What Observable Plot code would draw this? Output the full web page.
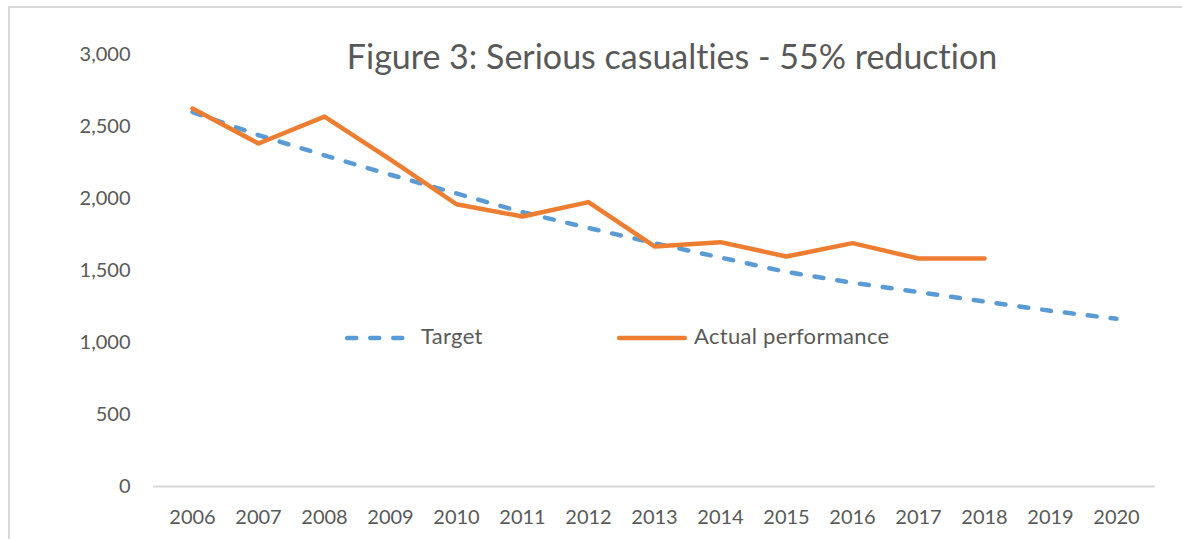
<!DOCTYPE html>
<html>
<head>
<meta charset="utf-8">
<script src="https://cdn.jsdelivr.net/npm/d3@7"></script>
<script src="https://cdn.jsdelivr.net/npm/@observablehq/plot@0.6"></script>
<style>
  html, body { margin: 0; padding: 0; background: #fff; }
  #wrap { position: relative; width: 1182px; height: 539px; overflow: hidden; font-family: Lato, "Open Sans", sans-serif; color: #595959; font-variant-ligatures: none; }
  #frame { position: absolute; left: 8px; top: 6px; right: -4px; bottom: -4px; border-top: 2px solid #d9d9d9; border-left: 2px solid #d9d9d9; }
  #title { position: absolute; top: 39px; left: 672px; transform: translateX(-50%); white-space: nowrap; font-size: 34px; line-height: 1; color: #595959; font-variant-ligatures: none; }
  .leg { position: absolute; font-size: 22px; letter-spacing: 0.3px; line-height: 1; white-space: nowrap; color: #595959; }
  .sw { position: absolute; }
  #chart { position: absolute; left: 0; top: 0; }
</style>
</head>
<body>
<div id="wrap">
  <div id="frame"></div>
  <div id="chart"></div>
  <div id="title"></div>
  <div id="legend"></div>
</div>
<script>
const titleText = "Figure 3: Serious casualties - 55% reduction";
const years = [2006, 2007, 2008, 2009, 2010, 2011, 2012, 2013, 2014, 2015, 2016, 2017, 2018, 2019, 2020];
const target = [2600, 2440, 2300, 2165, 2035, 1905, 1795, 1690, 1590, 1490, 1415, 1350, 1285, 1220, 1165];
const actual = [2625, 2382, 2569, 2270, 1960, 1875, 1975, 1667, 1697, 1597, 1690, 1583, 1583];
const yTicks = [0, 500, 1000, 1500, 2000, 2500, 3000];
const seriesNames = ["Target", "Actual performance"];
const colors = { Target: "#5B9BD5", "Actual performance": "#ED7D31" };

const targetData = years.map((y, i) => ({ year: y, value: target[i] }));
const actualData = actual.map((v, i) => ({ year: years[i], value: v }));

const chart = Plot.plot({
  width: 1182,
  height: 539,
  marginLeft: 153,
  marginRight: 27,
  marginTop: 54,
  marginBottom: 53,
  style: { fontFamily: "Lato, 'Open Sans', sans-serif", fontSize: "20px", color: "#595959", background: "transparent", overflow: "visible" },
  x: { type: "point", domain: years, padding: 0.5, tickSize: 0, tickPadding: 23, tickFormat: d => String(d), label: null },
  y: { domain: [0, 3000], ticks: yTicks, tickSize: 0, tickPadding: 23, tickFormat: d3.format(","), label: null },
  marks: [
    Plot.ruleY([0], { stroke: "#d9d9d9", strokeWidth: 2 }),
    Plot.line(targetData, { x: "year", y: "value", stroke: colors.Target, strokeWidth: 4.5, strokeDasharray: "9,14", strokeLinecap: "round" }),
    Plot.line(actualData, { x: "year", y: "value", stroke: colors["Actual performance"], strokeWidth: 4.5, strokeLinecap: "round", strokeLinejoin: "round" })
  ]
});
document.getElementById("chart").appendChild(chart);
document.getElementById("title").textContent = titleText;

// Legend
const legend = document.getElementById("legend");
const legItems = [
  { name: seriesNames[0], swX: 345, swW: 66, txtX: 421, dash: "9,14" },
  { name: seriesNames[1], swX: 617, swW: 70, txtX: 694, dash: null }
];
const legY = 338;
legItems.forEach(it => {
  const svg = d3.create("svg").attr("class", "sw")
    .attr("width", it.swW + 10).attr("height", 12)
    .style("left", (it.swX - 5) + "px").style("top", (legY - 6) + "px");
  svg.append("line")
    .attr("x1", 5 + 2.25).attr("x2", 5 + it.swW - 2.25)
    .attr("y1", 6).attr("y2", 6)
    .attr("stroke", colors[it.name]).attr("stroke-width", 4.5)
    .attr("stroke-linecap", "round")
    .attr("stroke-dasharray", it.dash);
  legend.appendChild(svg.node());
  const t = document.createElement("div");
  t.className = "leg";
  t.style.left = it.txtX + "px";
  t.style.top = (legY - 13) + "px";
  t.textContent = it.name;
  legend.appendChild(t);
});
</script>
</body>
</html>
